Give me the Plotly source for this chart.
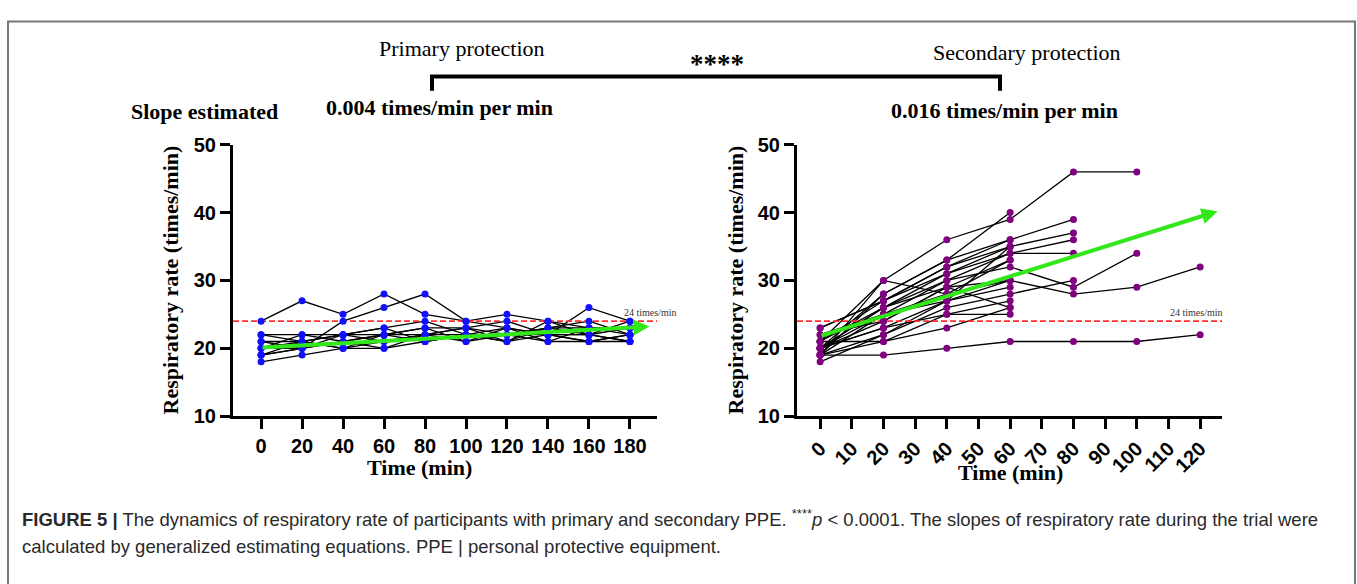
import plotly.graph_objects as go

# ---- data -------------------------------------------------------------
# Primary protection: respiratory rate (times/min) every 20 min, 0-180 min
PRIMARY_TIMES = [0, 20, 40, 60, 80, 100, 120, 140, 160, 180]
PRIMARY_RATES = [
    [24, 27, 25, 28, 25, 24, 25, 24, 23, 23],
    [19, 20, 24, 26, 28, 24, 23, 22, 26, 24],
    [22, 22, 22, 23, 24, 22, 22, 23, 24, 22],
    [21, 21, 22, 22, 23, 23, 21, 24, 22, 23],
    [20, 22, 21, 22, 22, 21, 23, 22, 22, 21],
    [18, 19, 20, 21, 22, 23, 22, 21, 23, 22],
    [19, 21, 22, 23, 21, 22, 22, 22, 21, 22],
    [20, 20, 21, 20, 22, 22, 21, 23, 23, 23],
    [21, 20, 21, 22, 23, 21, 22, 23, 22, 21],
    [20, 21, 20, 20, 21, 22, 23, 21, 21, 22],
    [19, 20, 22, 21, 22, 23, 24, 22, 22, 24],
    [22, 21, 20, 22, 21, 22, 21, 22, 21, 21],
]

# Secondary protection: every 20 min, participants stopped at different times
SECONDARY_TIMES = [0, 20, 40, 60, 80, 100, 120]
SECONDARY_RATES = [
    [19, 30, 36, 39, 46, 46],
    [20, 28, 33, 40],
    [21, 27, 32, 36, 39],
    [20, 26, 31, 35, 37],
    [19, 25, 30, 34, 36],
    [21, 26, 30, 32, 29, 34],
    [20, 23, 27, 30, 28, 29, 32],
    [19, 19, 20, 21, 21, 21, 22],
    [18, 22, 26, 28, 30],
    [23, 27, 31, 34, 34],
    [20, 25, 28, 30],
    [21, 21, 25, 27],
    [19, 22, 27, 29],
    [20, 23, 25, 25],
    [22, 24, 29, 33],
    [19, 28, 33, 36],
    [20, 26, 29, 26],
    [21, 30, 28, 33],
    [19, 21, 23, 26],
    [22, 25, 27, 35],
    [20, 24, 29, 30],
    [23, 27, 32, 35],
]

THRESHOLD = 24  # times/min reference line

# estimated trend (start time, start rate, end time, end rate)
PRIMARY_TREND = [0, 20.1, 189.5, 23.2]
SECONDARY_TREND = [0, 21.8, 125.5, 40.2]

PRIMARY_TICKS = [0, 20, 40, 60, 80, 100, 120, 140, 160, 180]
SECONDARY_TICKS = [0, 10, 20, 30, 40, 50, 60, 70, 80, 90, 100, 110, 120]
Y_TICKS = [10, 20, 30, 40, 50]

# ---- layout constants ---------------------------------------------------
W, H = 1357, 584
LEFT_RANGE = [-13.7, 193.2]
RIGHT_RANGE = [-7.3, 126.9]


def px_x(p):
    return p / W


def px_y(p):
    return 1 - p / H


BLUE = "#1010ff"
PURPLE = "#800080"
GREEN = "#33e81a"
RED = "#ff3030"
SERIF = "Liberation Serif"
SANS = "Liberation Sans"

fig = go.Figure()


def add_panel(times, rates, xa, ya, color, xrange):
    # participant lines
    for row in rates:
        fig.add_trace(go.Scatter(
            x=times[:len(row)], y=row, mode="lines",
            line=dict(color="black", width=1.3),
            xaxis=xa, yaxis=ya, showlegend=False, hoverinfo="skip"))
    # 24 times/min reference
    fig.add_trace(go.Scatter(
        x=xrange, y=[THRESHOLD, THRESHOLD], mode="lines",
        line=dict(color=RED, width=1.6, dash="6px,3px"),
        xaxis=xa, yaxis=ya, showlegend=False, hoverinfo="skip"))
    # measurement points on top
    xs, ys = [], []
    for row in rates:
        xs += times[:len(row)]
        ys += row
    fig.add_trace(go.Scatter(
        x=xs, y=ys, mode="markers",
        marker=dict(color=color, size=7),
        xaxis=xa, yaxis=ya, showlegend=False, cliponaxis=False))


add_panel(PRIMARY_TIMES, PRIMARY_RATES, "x", "y", BLUE, LEFT_RANGE)
add_panel(SECONDARY_TIMES, SECONDARY_RATES, "x2", "y2", PURPLE, RIGHT_RANGE)

axis_common = dict(
    showline=True, linecolor="black", linewidth=3,
    ticks="outside", ticklen=10, tickwidth=2.5, tickcolor="black",
    showgrid=False, zeroline=False,
    tickfont=dict(family=SANS, size=20, color="black", weight="bold"),
)

y_dom = [px_y(421), px_y(139)]

fig.update_layout(
    width=W, height=H,
    margin=dict(l=0, r=0, t=0, b=0),
    paper_bgcolor="white", plot_bgcolor="white",
    xaxis=dict(domain=[px_x(233), px_x(657)], range=LEFT_RANGE,
               tickvals=PRIMARY_TICKS, anchor="y", **axis_common),
    yaxis=dict(domain=y_dom, range=[10, 50], tickvals=Y_TICKS,
               anchor="x", **axis_common),
    xaxis2=dict(domain=[px_x(797), px_x(1222)], range=RIGHT_RANGE,
                tickvals=SECONDARY_TICKS, tickangle=-45, anchor="y2",
                **axis_common),
    yaxis2=dict(domain=y_dom, range=[10, 50], tickvals=Y_TICKS,
                anchor="x2", **axis_common),
)

annotations = []

# slope trend arrows, placed in data coordinates
for trend, xr, yr in [(PRIMARY_TREND, "x", "y"), (SECONDARY_TREND, "x2", "y2")]:
    annotations.append(dict(
        x=trend[2], y=trend[3], ax=trend[0], ay=trend[1],
        xref=xr, yref=yr, axref=xr, ayref=yr,
        text="", showarrow=True, arrowhead=2, arrowsize=0.8,
        arrowwidth=4, arrowcolor=GREEN, standoff=0, startstandoff=0))

# threshold labels
for xv, xr, yr in [(189.8, "x", "y"), (119.0, "x2", "y2")]:
    annotations.append(dict(
        x=xv, y=THRESHOLD, xref=xr, yref=yr, xanchor="center",
        yanchor="bottom", yshift=1, showarrow=False,
        text="24 times/min",
        font=dict(family=SERIF, size=10, color="#333333")))

# axis titles
for cx in (170, 735):
    annotations.append(dict(
        x=px_x(cx), y=px_y(280), xref="paper", yref="paper",
        text="Respiratory rate (times/min)", textangle=-90,
        showarrow=False, xanchor="center", yanchor="middle",
        font=dict(family=SERIF, size=22, color="black", weight="bold")))
for cx, cy in ((419, 474), (1010, 480)):
    annotations.append(dict(
        x=px_x(cx), y=px_y(cy), xref="paper", yref="paper",
        text="Time (min)", showarrow=False,
        xanchor="center", yanchor="middle", borderpad=0,
        font=dict(family=SERIF, size=22, color="black", weight="bold")))

# header texts
header = [
    ("Primary protection", 462, 39, "normal", 22),
    ("Secondary protection", 1027, 43, "normal", 22),
    ("****", 717, 55, "bold", 27),
    ("Slope estimated", 204, 104, "bold", 22),
    ("0.004 times/min per min", 440, 100, "bold", 22),
    ("0.016 times/min per min", 1004, 103, "bold", 22),
]
for txt, cx, cy, wt, sz in header:
    annotations.append(dict(
        x=px_x(cx), y=px_y(cy), xref="paper", yref="paper",
        text=txt, showarrow=False, xanchor="center", yanchor="middle",
        font=dict(family=SERIF, size=sz, color="black", weight=wt)))

# caption
caption_1 = ("<b>FIGURE 5 |</b> The dynamics of respiratory rate of participants with "
             "primary and secondary PPE. <sup>****</sup><i>p</i> &lt; 0.0001. "
             "The slopes of respiratory rate during the trial were")
caption_2 = ("calculated by generalized estimating equations. "
             "PPE | personal protective equipment.")
for txt, cy in ((caption_1, 527), (caption_2, 556)):
    annotations.append(dict(
        x=px_x(20), y=px_y(cy), xref="paper", yref="paper",
        text=txt, showarrow=False, xanchor="left", yanchor="middle",
        font=dict(family=SANS, size=18.5, color="#2a2a2a")))

fig.update_layout(annotations=annotations)

# significance bracket and outer frame
shapes = [
    dict(type="path", xref="paper", yref="paper",
         path=(f"M {px_x(432)},{px_y(83)} L {px_x(432)},{px_y(68)} "
               f"L {px_x(1000)},{px_y(68)} L {px_x(1000)},{px_y(83)}"),
         line=dict(color="black", width=4)),
    dict(type="rect", xref="paper", yref="paper",
         x0=px_x(8), x1=px_x(1355), y0=-0.05, y1=px_y(11),
         line=dict(color="#777777", width=2)),
]
fig.update_layout(shapes=shapes)

fig.write_html("out.html")
